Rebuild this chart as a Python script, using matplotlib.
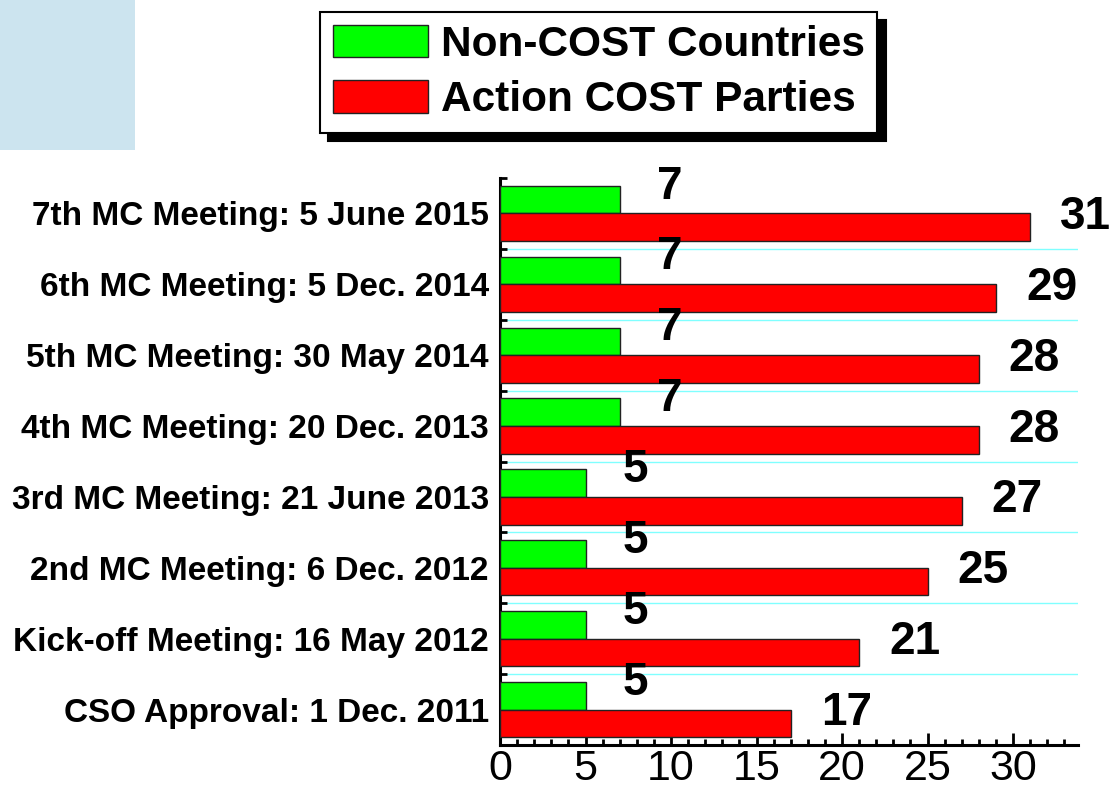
import matplotlib
matplotlib.use("Agg")
import matplotlib.pyplot as plt
from matplotlib.patches import Rectangle
from matplotlib.ticker import MultipleLocator
import numpy as np

meetings = [
    "CSO Approval: 1 Dec. 2011",
    "Kick-off Meeting: 16 May 2012",
    "2nd MC Meeting: 6 Dec. 2012",
    "3rd MC Meeting: 21 June 2013",
    "4th MC Meeting: 20 Dec. 2013",
    "5th MC Meeting: 30 May 2014",
    "6th MC Meeting: 5 Dec. 2014",
    "7th MC Meeting: 5 June 2015",
]
non_cost = [5, 5, 5, 5, 7, 7, 7, 7]
cost_parties = [17, 21, 25, 27, 28, 28, 29, 31]

plt.rcParams["font.family"] = ["Liberation Sans", "DejaVu Sans"]

fig = plt.figure(figsize=(11.11, 7.89), dpi=100)
ax = fig.add_axes([500 / 1111, 44 / 789, 578 / 1111, 567 / 789])

# light blue block in the corner
fig.patches.append(Rectangle((0, 1 - 150 / 789), 135 / 1111, 150 / 789,
                             transform=fig.transFigure, facecolor="#cce4ef",
                             edgecolor="none", zorder=0))

y = np.arange(len(meetings))
h = 0.39

ax.barh(y + h / 2, non_cost, height=h, color="#00ff00", edgecolor="#222222",
        linewidth=1, label="Non-COST Countries", zorder=3)
ax.barh(y - h / 2, cost_parties, height=h, color="#ff0000", edgecolor="#222222",
        linewidth=1, label="Action COST Parties", zorder=3)

for yi, v in zip(y, non_cost):
    ax.text(v + 2.9, yi + 0.38, str(v), ha="center", va="center",
            fontsize=33, fontweight="bold", clip_on=False)
for yi, v in zip(y, cost_parties):
    ax.text(v + 3.25, yi - 0.05, str(v), ha="center", va="center",
            fontsize=33, fontweight="bold", clip_on=False)

# separators between the meetings (none above the top one)
ax.hlines(y[:-1] + 0.5, 0, 33.8, color="#80ffff", linewidth=1, zorder=1)

ax.set_xlim(0, 33.8)
ax.set_ylim(-0.5, 7.5)

ax.set_yticks(y)
ax.set_yticklabels(meetings, fontsize=24, fontweight="bold")
ax.yaxis.set_minor_locator(MultipleLocator(1, offset=0.5))
ax.xaxis.set_major_locator(MultipleLocator(5))
ax.xaxis.set_minor_locator(MultipleLocator(1))

ax.tick_params(axis="x", which="major", direction="in", length=9, width=2,
               labelsize=31, pad=3)
ax.tick_params(axis="x", which="minor", direction="in", length=4, width=2)
ax.tick_params(axis="y", which="major", direction="in", length=8, width=2,
               pad=8)
ax.tick_params(axis="y", which="minor", direction="in", length=5, width=2)

for s in ["top", "right"]:
    ax.spines[s].set_visible(False)
for s in ["left", "bottom"]:
    ax.spines[s].set_linewidth(2.2)

leg = fig.legend(loc="upper left", bbox_to_anchor=(320 / 1111, 1 - 12 / 789),
                 borderaxespad=0, prop={"weight": "bold", "size": 30.5},
                 frameon=True, fancybox=False, edgecolor="black",
                 handlelength=2.25, handleheight=0.8, handletextpad=0.3,
                 labelspacing=0.37, borderpad=0.3,
                 shadow={"ox": 6, "oy": -6, "facecolor": "black",
                         "edgecolor": "black", "alpha": 1})
leg.get_frame().set_linewidth(1.5)
leg.get_frame().set_alpha(1)

fig.savefig("out.png", dpi=100)
